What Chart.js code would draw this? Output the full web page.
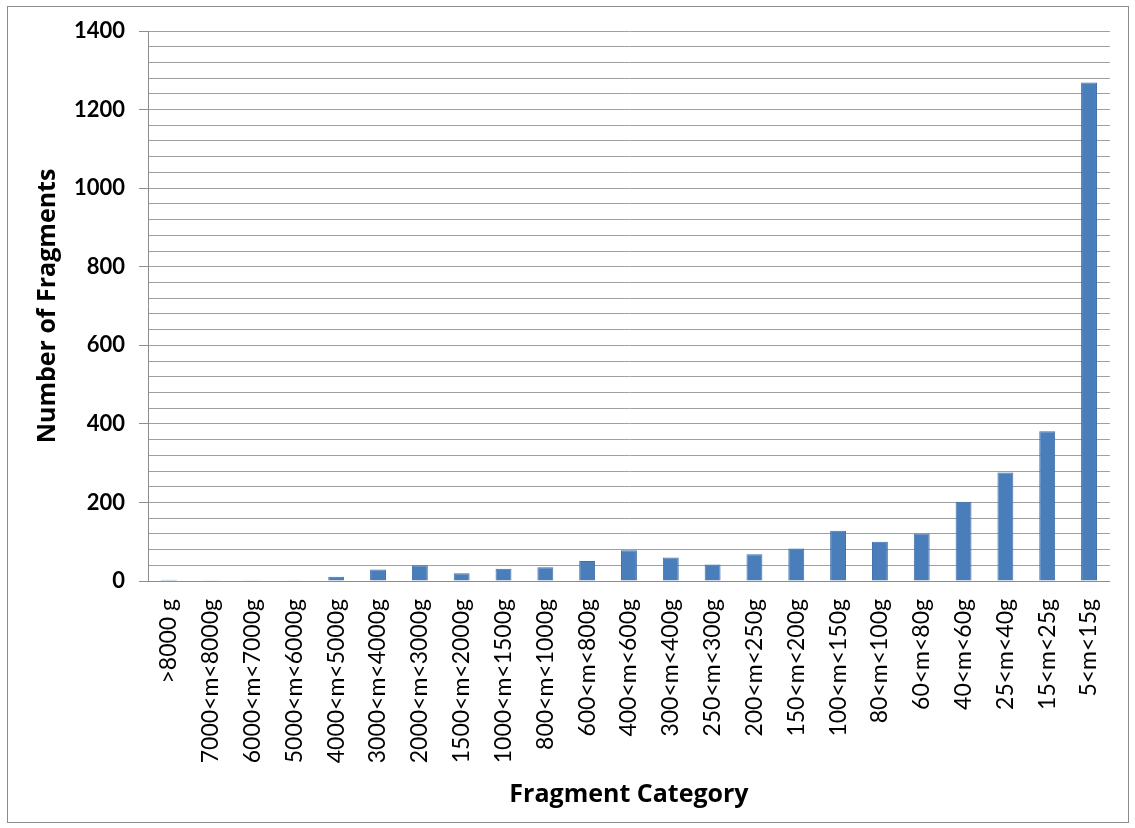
<!DOCTYPE html>
<html>
<head>
<meta charset="utf-8">
<script src="https://cdn.jsdelivr.net/npm/chart.js@4"></script>
<style>
  body { margin: 0; background: #fff; }
</style>
</head>
<body>
<canvas id="fragChart" width="1135" height="828"></canvas>
<script>
const categories = [
  ">8000 g", "7000<m<8000g", "6000<m<7000g", "5000<m<6000g", "4000<m<5000g",
  "3000<m<4000g", "2000<m<3000g", "1500<m<2000g", "1000<m<1500g", "800<m<1000g",
  "600<m<800g", "400<m<600g", "300<m<400g", "250<m<300g", "200<m<250g",
  "150<m<200g", "100<m<150g", "80<m<100g", "60<m<80g", "40<m<60g",
  "25<m<40g", "15<m<25g", "5<m<15g"
];
const fragmentCounts = [
  3, 2, 2, 2, 11,
  29, 40, 20, 31, 35,
  51, 78, 60, 42, 68,
  83, 128, 100, 121, 202,
  276, 381, 1269
];

const tickFont = "Lato, 'Open Sans', sans-serif";
const titleFont = "'Open Sans', Lato, sans-serif";

// gray frame around the whole chart
const framePlugin = {
  id: "frame",
  afterDraw(chart) {
    const c = chart.ctx;
    c.save();
    c.strokeStyle = "#8c8c8c";
    c.lineWidth = 1;
    c.strokeRect(7.5, 6.5, 1121, 816);
    c.restore();
  },
};

const ctx = document.getElementById("fragChart");

new Chart(ctx, {
  type: "bar",
  data: {
    labels: categories,
    datasets: [
      {
        label: "Number of Fragments",
        data: fragmentCounts,
        backgroundColor: "#4a7ebb",
        borderColor: "#3f6fa8",
        borderWidth: 1,
        categoryPercentage: 1.0,
        barPercentage: 0.38,
      },
    ],
  },
  plugins: [framePlugin],
  options: {
    responsive: false,
    animation: false,
    layout: {
      padding: { top: 31, right: 17, bottom: 0, left: 0 },
    },
    plugins: {
      legend: { display: false },
      tooltip: { enabled: false },
    },
    scales: {
      x: {
        grid: { display: false, drawTicks: false },
        border: { display: true, color: "#8c8c8c" },
        ticks: {
          color: "#000",
          minRotation: 90,
          maxRotation: 90,
          autoSkip: false,
          padding: 18,
          font: { family: tickFont, size: 23 },
        },
        title: {
          display: true,
          text: "Fragment Category",
          color: "#000",
          padding: { top: 0, bottom: 18 },
          font: { family: titleFont, size: 25, weight: "bold" },
        },
        afterFit(scale) {
          scale.height = 247;
        },
      },
      y: {
        min: 0,
        max: 1400,
        grid: {
          color: "#a0a0a0",
          tickLength: 9,
          tickColor: (c) => (c.tick && c.tick.value % 200 === 0 ? "#8c8c8c" : "transparent"),
        },
        border: { display: true, color: "#8c8c8c" },
        ticks: {
          stepSize: 40,
          autoSkip: false,
          color: "#000",
          padding: 14,
          font: { family: tickFont, size: 22, weight: "bold" },
          callback: (v) => (v % 200 === 0 ? v : ""),
        },
        title: {
          display: true,
          text: "Number of Fragments",
          color: "#000",
          padding: { top: 33, bottom: 0 },
          font: { family: titleFont, size: 25, weight: "bold" },
        },
        afterFit(scale) {
          scale.width = 148;
        },
      },
    },
  },
});
</script>
</body>
</html>
